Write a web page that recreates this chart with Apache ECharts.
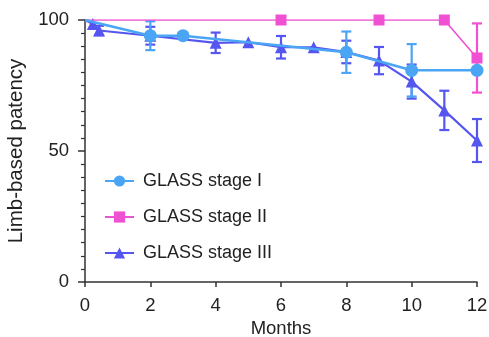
<!DOCTYPE html>
<html>
<head>
<meta charset="utf-8">
<script src="https://cdn.jsdelivr.net/npm/echarts@6/dist/echarts.min.js"></script>
<style>
html,body{margin:0;padding:0;background:#fff;}
#c{width:489px;height:337px;}
</style>
</head>
<body>
<div id="c"></div>
<script>
// ---- data ----
const seriesNames = ['GLASS stage I', 'GLASS stage II', 'GLASS stage III'];
const months1 = [0, 2, 3, 8, 10, 12];
const stage1  = [100, 94, 94, 87.7, 80.8, 80.8];
const err1    = [0, 5.5, 0, 7.9, 10, 0];

const months2 = [0, 6, 9, 11, 12];
const stage2  = [100, 100, 100, 100, 85.5];
const err2    = [0, 0, 0, 0, 13.2];

const months3 = [0, 0.24, 0.43, 2, 4, 5, 6, 7, 8, 9, 10, 11, 12];
const stage3  = [100, 98.5, 96, 94, 91.3, 91.5, 89.6, 89.6, 87.8, 84.5, 76.5, 65.5, 54];
const err3    = [0, 0, 1.8, 3.4, 3.9, 0, 4.3, 0, 4.3, 5.2, 6.5, 7.5, 8.2];

const xTicks = [0, 2, 4, 6, 8, 10, 12];
const yTicks = [0, 50, 100];

const colors = ['#4BA5F5', '#F050D2', '#5555F0'];
const FONT = 'Liberation Sans, Arial, Helvetica, sans-serif';

function pts(xs, ys) {
  return xs.map((x, i) => i === 0 ? { value: [x, ys[i]], symbol: 'none' } : [x, ys[i]]);
}
function errData(xs, ys, es) {
  const out = [];
  xs.forEach((x, i) => { if (es[i] > 0) out.push([x, ys[i] - es[i], ys[i] + es[i]]); });
  return out;
}
function errSeries(data, color, z) {
  return {
    type: 'custom',
    z: z,
    silent: true,
    data: data,
    encode: { x: 0, y: [1, 2] },
    renderItem: function (params, api) {
      const x = api.value(0);
      const lo = api.coord([x, api.value(1)]);
      const hi = api.coord([x, api.value(2)]);
      const w = 5;
      const st = { stroke: color, lineWidth: 2.2 };
      return {
        type: 'group',
        children: [
          { type: 'line', shape: { x1: lo[0], y1: lo[1], x2: hi[0], y2: hi[1] }, style: st },
          { type: 'line', shape: { x1: lo[0] - w, y1: lo[1], x2: lo[0] + w, y2: lo[1] }, style: st },
          { type: 'line', shape: { x1: hi[0] - w, y1: hi[1], x2: hi[0] + w, y2: hi[1] }, style: st }
        ]
      };
    }
  };
}

const chart = echarts.init(document.getElementById('c'), null, { renderer: 'canvas' });
chart.setOption({
  animation: false,
  textStyle: { fontFamily: FONT },
  grid: { left: 85, right: 12, top: 20, bottom: 55, containLabel: false, outerBoundsMode: 'none' },
  legend: {
    data: seriesNames,
    orient: 'vertical',
    left: 99,
    top: 167,
    itemWidth: 29,
    itemHeight: 14,
    itemGap: 18,
    textStyle: { fontSize: 18, color: '#222', fontFamily: FONT, padding: [0, 0, 0, 4] }
  },
  xAxis: {
    type: 'value',
    min: 0, max: 12, interval: 2,
    name: 'Months',
    nameLocation: 'middle',
    nameGap: 37,
    nameTextStyle: { fontSize: 18.5, color: '#222' },
    axisLine: { lineStyle: { color: '#333', width: 1.5 } },
    axisTick: { show: true, length: 5, lineStyle: { color: '#333', width: 1.5 } },
    axisLabel: { fontSize: 18.5, color: '#222', margin: 14,
      formatter: v => xTicks.includes(v) ? String(v) : '' },
    splitLine: { show: false }
  },
  yAxis: {
    type: 'value',
    min: 0, max: 100, interval: 50,
    name: 'Limb-based patency',
    nameLocation: 'middle',
    nameGap: 52,
    nameTextStyle: { fontSize: 20.5, color: '#222' },
    axisLine: { show: true, lineStyle: { color: '#333', width: 1.5 } },
    axisTick: { show: true, length: 7, lineStyle: { color: '#333', width: 1.5 } },
    minorTick: { show: true, splitNumber: 10, length: 4, lineStyle: { color: '#333', width: 1.2 } },
    axisLabel: { fontSize: 18.5, color: '#222', margin: 16,
      formatter: v => yTicks.includes(v) ? String(v) : '' },
    splitLine: { show: false }
  },
  series: [
    errSeries(errData(months3, stage3, err3), colors[2], 2),
    errSeries(errData(months2, stage2, err2), colors[1], 3),
    errSeries(errData(months1, stage1, err1), colors[0], 4),
    {
      name: seriesNames[2], type: 'line', z: 5,
      data: pts(months3, stage3),
      symbol: 'triangle', symbolSize: 12,
      lineStyle: { color: colors[2], width: 2.2 },
      itemStyle: { color: colors[2] }
    },
    {
      name: seriesNames[1], type: 'line', z: 6,
      data: pts(months2, stage2),
      symbol: 'rect', symbolSize: 11,
      lineStyle: { color: colors[1], width: 1.6 },
      itemStyle: { color: colors[1] }
    },
    {
      name: seriesNames[0], type: 'line', z: 7,
      data: pts(months1, stage1),
      symbol: 'circle', symbolSize: 13,
      lineStyle: { color: colors[0], width: 2.5 },
      itemStyle: { color: colors[0] }
    }
  ]
});
</script>
</body>
</html>
